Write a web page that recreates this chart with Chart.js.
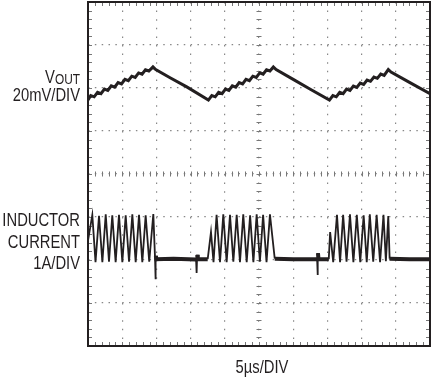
<!DOCTYPE html>
<html>
<head>
<meta charset="utf-8">
<script src="https://cdn.jsdelivr.net/npm/chart.js@4.4.1/dist/chart.umd.min.js"></script>
<style>
  html, body { margin: 0; padding: 0; background: #fff; }
  canvas { display: block; }
</style>
</head>
<body>
<canvas id="scope" width="435" height="378"></canvas>
<script>
// time axis: 5us/DIV, 10 divisions
const timeMin = 0;
const timeMax = 50;
const timeStep = 5;

// VOUT trace (mV, AC coupled, 20mV/DIV)
const voutTime = [
  0, 0.4, 0.9, 1.4, 1.9, 2.4, 2.9, 3.4, 3.9, 4.4, 4.9, 5.4, 5.9, 6.4, 6.9, 7.4, 7.9, 8.4, 8.9, 9.5, 9.9, 12.0, 14.5, 17.6,
  18.1, 18.6, 19.1, 19.6, 20.1, 20.6, 21.1, 21.6, 22.1, 22.6, 23.1, 23.6, 24.1, 24.6, 25.1, 25.6, 26.1, 26.6, 27.1, 27.5, 30.0, 32.5, 35.3,
  35.8, 36.3, 36.8, 37.3, 37.8, 38.3, 38.8, 39.3, 39.8, 40.3, 40.8, 41.3, 41.8, 42.3, 42.8, 43.3, 43.9, 44.3, 47.0, 50.0
];
const voutMv = [
  -5.6, -3.5, -4.1, -2.0, -2.6, -0.5, -1.1, 1.0, 0.4, 2.5, 1.9, 4.0, 3.4, 5.5, 4.9, 7.0, 6.4, 8.5, 7.9, 9.8, 8.6, 4.8, 0.4, -5.6,
  -3.5, -4.1, -2.0, -2.6, -0.5, -1.1, 1.0, 0.4, 2.5, 1.9, 4.0, 3.4, 5.5, 4.9, 7.0, 6.4, 8.5, 7.9, 9.8, 8.6, 4.0, -0.6, -5.6,
  -3.5, -4.1, -2.0, -2.6, -0.5, -1.1, 0.9, 0.3, 2.3, 1.7, 3.7, 3.1, 5.1, 4.5, 6.5, 5.9, 8.6, 7.4, 2.6, -2.6
];

// inductor current trace (A, 1A/DIV)
const ilTime = [
  0, 0.63, 1.1, 1.61, 2.1, 2.59, 3.07, 3.55, 4.04, 4.53, 5.02, 5.51, 6.0, 6.48, 6.97, 7.46, 7.94, 8.43, 8.95, 9.55, 9.8, 9.85, 9.92, 10.0,
  12.5, 15.8, 15.88, 15.95, 16.05, 17.5,
  17.98, 18.35, 18.8, 19.3, 19.78, 20.27, 20.76, 21.25, 21.74, 22.22, 22.7, 23.2, 23.7, 24.18, 24.66, 25.13, 25.6, 26.1, 26.6, 27.3,
  30.0, 33.5, 33.55, 33.62, 33.7, 35.2,
  35.4, 35.85, 36.4, 36.85, 37.3, 37.8, 38.3, 38.8, 39.3, 39.8, 40.3, 40.75, 41.2, 41.7, 42.2, 42.7, 43.2, 43.55, 43.9, 44.1,
  47.0, 50.0
];
const ilAmps = [
  0.45, 1.05, -0.05, 1.03, -0.05, 1.06, -0.04, 1.04, -0.05, 1.05, -0.05, 1.04, -0.04, 1.06, -0.05, 1.05, -0.05, 1.04, -0.04, 1.07, 0.05, -0.45, 0.1, 0.02,
  0.03, 0.01, -0.3, 0.12, 0.02, 0.02,
  0.65, -0.05, 1.05, -0.05, 1.06, -0.05, 1.05, -0.04, 1.05, -0.05, 1.06, -0.05, 1.04, -0.05, 1.06, -0.04, 1.05, -0.05, 1.06, 0.03,
  0.02, 0.02, -0.35, 0.16, 0.02, 0.02,
  0.65, -0.05, 1.05, -0.05, 1.05, -0.04, 1.06, -0.05, 1.05, -0.05, 1.04, -0.05, 1.06, -0.04, 1.05, -0.05, 1.05, -0.03, 1.02, 0.03,
  0.02, 0.02
];

// vertical ranges: 8 divisions each
const voutRange = [-120, 40];   // 20mV/DIV
const ilRange = [-2, 6];        // 1A/DIV

const FONT = '"Liberation Sans", Arial, sans-serif';
const INK = "#231f20";

const toPoints = (xs, ys) => xs.map((x, i) => ({ x: x, y: ys[i] }));

// draw text squeezed horizontally (no narrow font installed)
const SQUEEZE = 0.82;
function drawNarrow(ctx, text, x, y, size, align) {
  ctx.save();
  ctx.font = `${size}px ${FONT}`;
  const w = ctx.measureText(text).width * SQUEEZE;
  let left = x;
  if (align === "right") left = x - w;
  if (align === "center") left = x - w / 2;
  ctx.translate(left, y);
  ctx.scale(SQUEEZE, 1);
  ctx.textAlign = "left";
  ctx.textBaseline = "alphabetic";
  ctx.fillText(text, 0, 0);
  ctx.restore();
  return w;
}

// frame, minor ticks on border and centre lines, labels
const scopePlugin = {
  id: "scopePlugin",
  beforeDatasetsDraw: (chart) => {
    const { ctx, chartArea: a } = chart;
    const xs = chart.scales.x;
    const ys = chart.scales.yI;
    const xc = xs.getPixelForValue((timeMin + timeMax) / 2);
    const yc = ys.getPixelForValue((ilRange[0] + ilRange[1]) / 2);
    ctx.save();
    ctx.strokeStyle = "#777";
    ctx.lineWidth = 1;
    ctx.beginPath();
    // minor ticks along x (every 0.2 div)
    for (let t = timeMin; t <= timeMax; t += timeStep / 5) {
      const px = Math.round(xs.getPixelForValue(t)) + 0.5;
      ctx.moveTo(px, a.top); ctx.lineTo(px, a.top + 4);
      ctx.moveTo(px, a.bottom); ctx.lineTo(px, a.bottom - 4);
      ctx.moveTo(px, yc - 2.5); ctx.lineTo(px, yc + 2.5);
    }
    // minor ticks along y
    for (let v = ilRange[0]; v <= ilRange[1] + 1e-6; v += 0.2) {
      const py = Math.round(ys.getPixelForValue(v)) + 0.5;
      ctx.moveTo(a.left, py); ctx.lineTo(a.left + 4, py);
      ctx.moveTo(a.right, py); ctx.lineTo(a.right - 4, py);
      ctx.moveTo(xc - 2.5, py); ctx.lineTo(xc + 2.5, py);
    }
    ctx.stroke();
    ctx.restore();
  },
  afterDatasetsDraw: (chart) => {
    const { ctx, chartArea: a } = chart;
    ctx.save();
    ctx.strokeStyle = INK;
    ctx.lineWidth = 2;
    ctx.strokeRect(a.left, a.top, a.right - a.left, a.bottom - a.top);

    ctx.fillStyle = INK;
    const rx = a.left - 8;
    const subW = drawNarrow(ctx, "OUT", rx, 84, 14.5, "right");
    drawNarrow(ctx, "V", rx - subW, 83, 18, "right");
    drawNarrow(ctx, "20mV/DIV", rx, 101, 18, "right");
    drawNarrow(ctx, "INDUCTOR", rx, 226, 18, "right");
    drawNarrow(ctx, "CURRENT", rx, 248, 18, "right");
    drawNarrow(ctx, "1A/DIV", rx, 269, 18, "right");
    drawNarrow(ctx, "5\u00b5s/DIV", (a.left + a.right) / 2 + 3, 373, 18, "center");
    ctx.restore();
  },
};

new Chart(document.getElementById("scope").getContext("2d"), {
  type: "line",
  data: {
    datasets: [
      {
        label: "VOUT",
        data: toPoints(voutTime, voutMv),
        yAxisID: "yV",
        borderColor: INK,
        borderWidth: 3,
        pointRadius: 0,
        tension: 0,
      },
      {
        label: "INDUCTOR CURRENT",
        data: toPoints(ilTime, ilAmps),
        yAxisID: "yI",
        borderColor: INK,
        borderWidth: 1.8,
        pointRadius: 0,
        tension: 0,
        segment: {
          // the idle (zero current) stretches look thick on the scope
          borderWidth: (c) =>
            Math.abs(c.p0.parsed.y) < 0.2 && Math.abs(c.p1.parsed.y) < 0.2 ? 4 : 1.8,
        },
      },
    ],
  },
  options: {
    responsive: false,
    animation: false,
    devicePixelRatio: 1,
    layout: { padding: { left: 88, right: 5, top: 2, bottom: 32 } },
    plugins: {
      legend: { display: false },
      tooltip: { enabled: false },
    },
    scales: {
      x: {
        type: "linear",
        min: timeMin,
        max: timeMax,
        ticks: { stepSize: timeStep, display: false },
        grid: { color: "#888", lineWidth: 1.2, drawTicks: false },
        border: { display: false, dash: [1.5, 7.1] },
      },
      yI: {
        type: "linear",
        position: "left",
        min: ilRange[0],
        max: ilRange[1],
        ticks: { stepSize: 1, display: false },
        grid: { color: "#888", lineWidth: 1.2, drawTicks: false },
        border: { display: false, dash: [1.5, 5.34] },
      },
      yV: {
        type: "linear",
        display: false,
        min: voutRange[0],
        max: voutRange[1],
      },
    },
  },
  plugins: [scopePlugin],
});
</script>
</body>
</html>
